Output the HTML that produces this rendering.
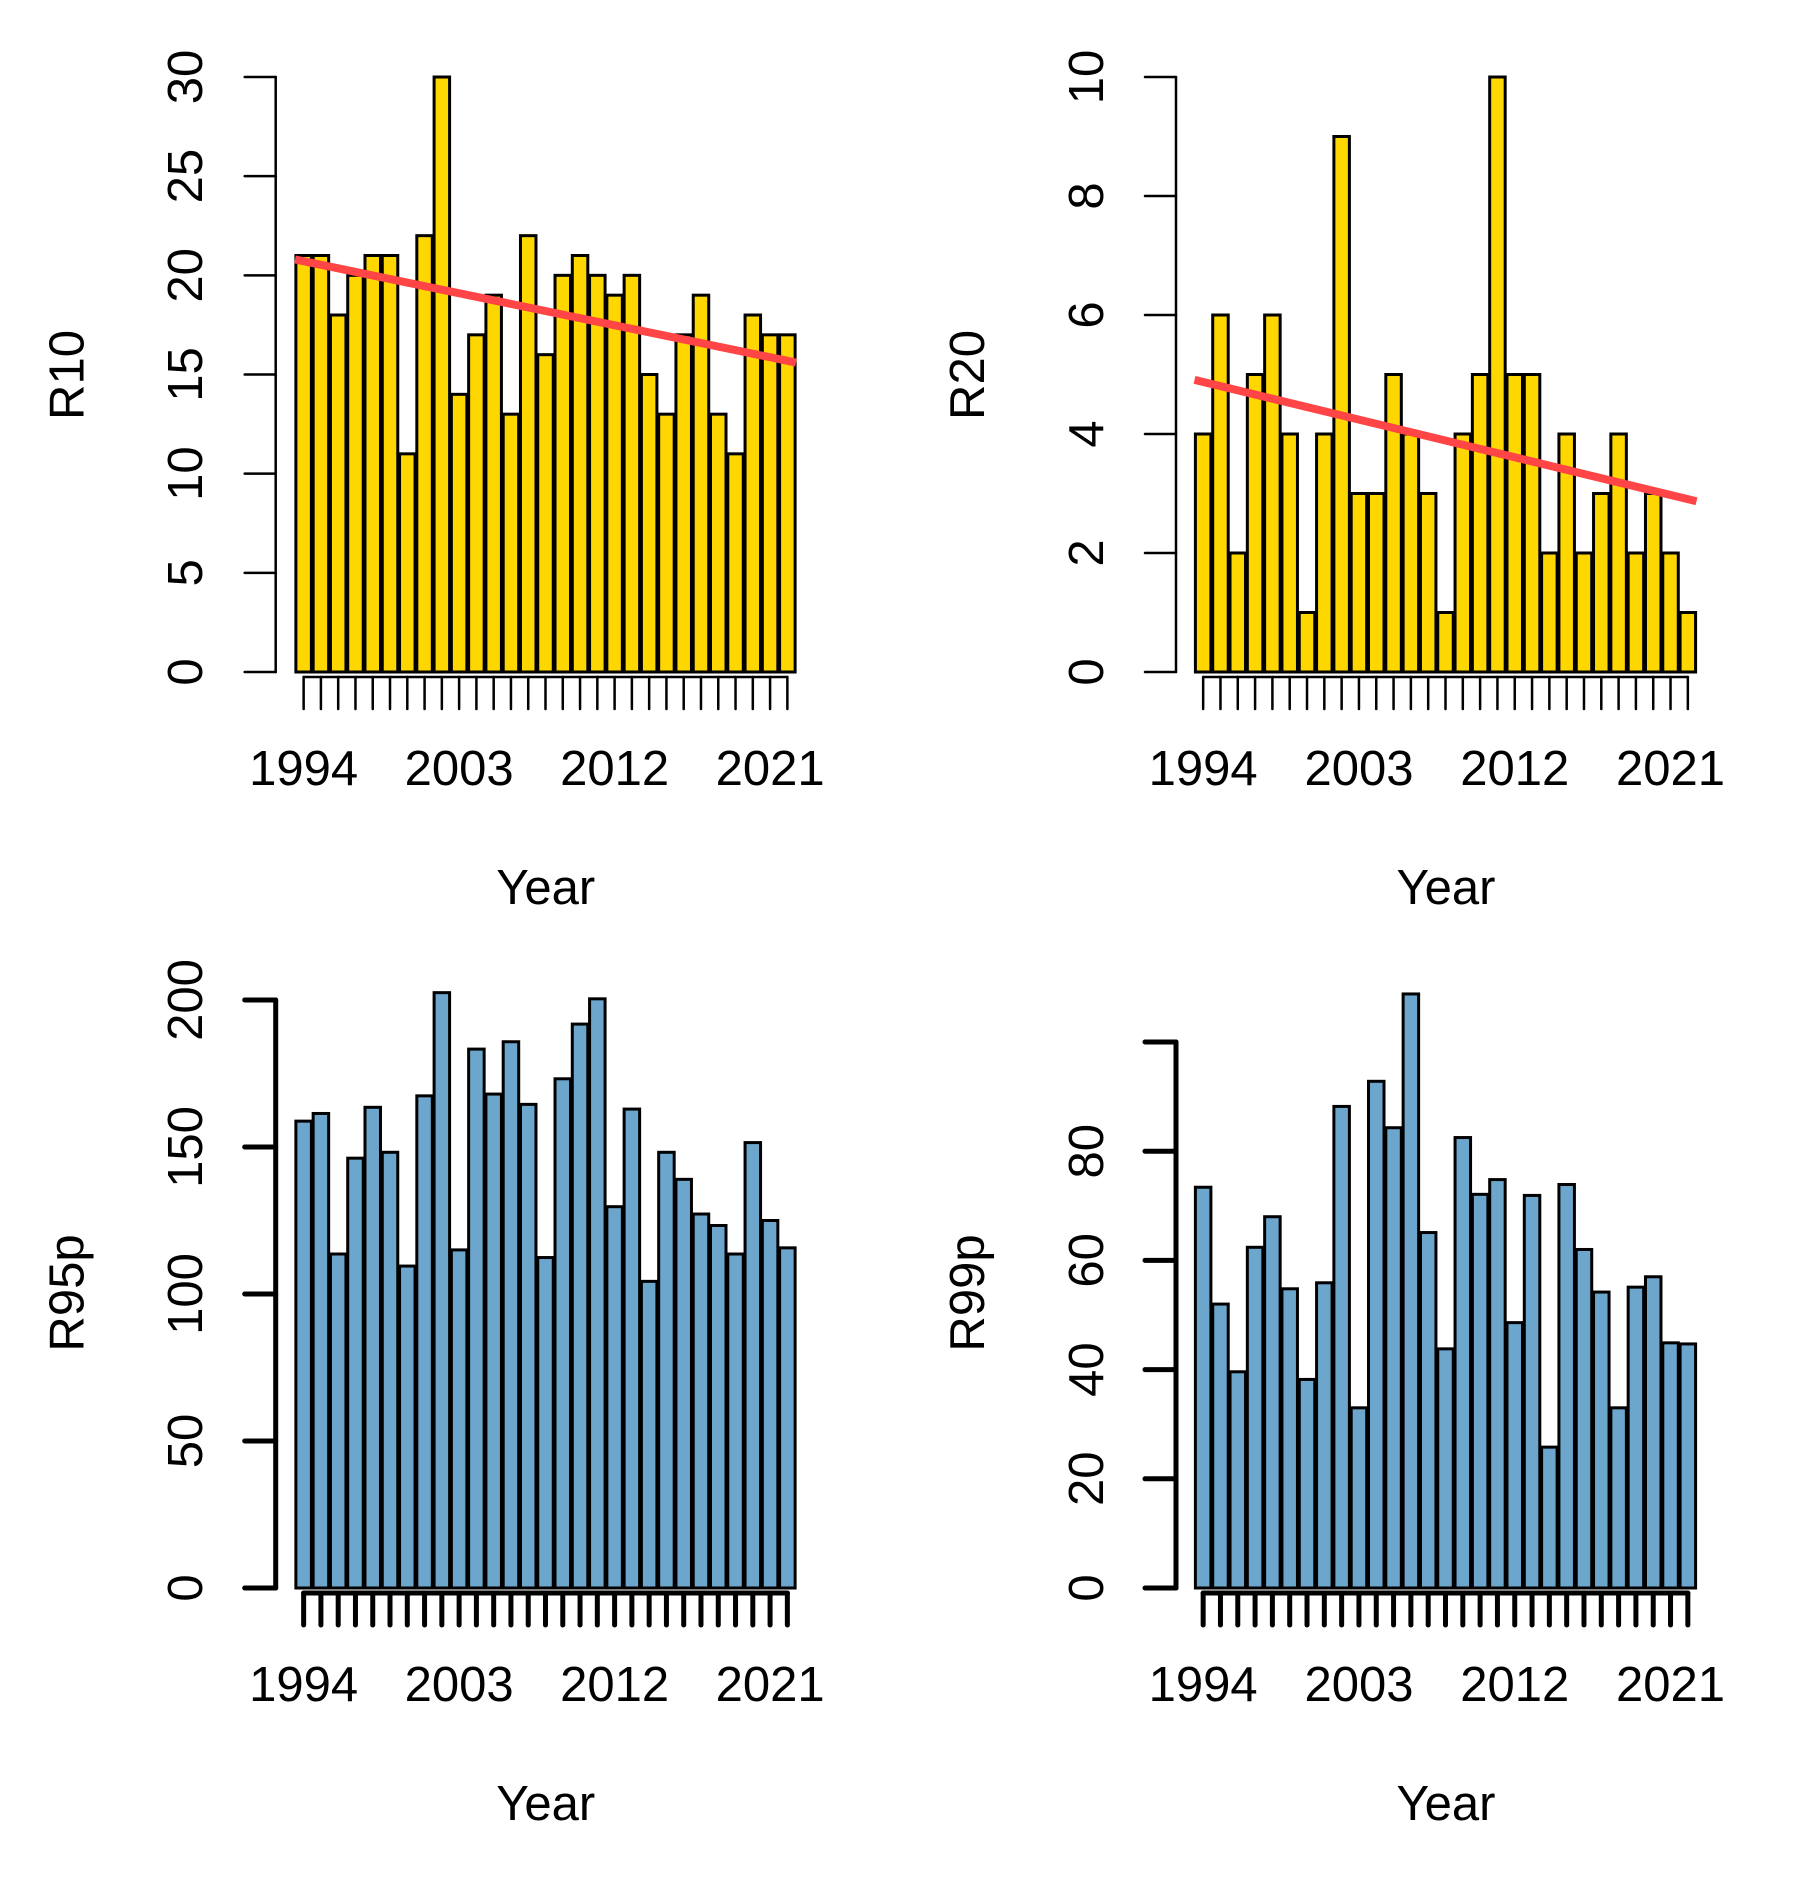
<!DOCTYPE html>
<html><head><meta charset="utf-8"><style>
html,body{margin:0;padding:0;background:#fff;}
svg{display:block;}
text{font-family:"Liberation Sans",Arial,sans-serif;fill:#000;}
</style></head><body>
<svg id="chart" xmlns="http://www.w3.org/2000/svg" width="1793" height="1897" viewBox="0 0 1793 1897"></svg>
<script>
const years = [1994,1995,1996,1997,1998,1999,2000,2001,2002,2003,2004,2005,2006,2007,2008,2009,2010,2011,2012,2013,2014,2015,2016,2017,2018,2019,2020,2021,2022];
const yearLabels = ["1994","2003","2012","2021"];
const r10 = [21,21,18,20,21,21,11,22,30,14,17,19,13,22,16,20,21,20,19,20,15,13,17,19,13,11,18,17,17];
const r20 = [4,6,2,5,6,4,1,4,9,3,3,5,4,3,1,4,5,10,5,5,2,4,2,3,4,2,3,2,1];
const r95p = [158.8,161.4,113.6,146.2,163.5,148.2,109.5,167.4,202.5,115,183.3,168,185.8,164.5,112.4,173.2,191.8,200.4,129.7,162.9,104.3,148.2,139,127.2,123.3,113.6,151.5,125,115.7];
const r99p = [73.4,52,39.6,62.4,68,54.8,38.2,55.9,88.2,33,92.8,84.3,108.8,65.1,43.8,82.5,72.1,74.8,48.6,71.9,25.8,73.9,62,54.2,33,55.1,57,44.9,44.7];
const r10Ticks = [0,5,10,15,20,25,30];
const r20Ticks = [0,2,4,6,8,10];
const r95Ticks = [0,50,100,150,200];
const r99Ticks = [0,20,40,60,80,100];
const r99TickLabels = ["0","20","40","60","80",""];
const r10Trend = [20.8,15.6];
const r20Trend = [4.91,2.87];

const NS = "http://www.w3.org/2000/svg";
const svg = document.getElementById("chart");
function mk(tag, attrs, parent){
  const e = document.createElementNS(NS, tag);
  for (const k in attrs) e.setAttribute(k, attrs[k]);
  (parent||svg).appendChild(e);
  return e;
}

function panel(o){
  const g = mk("g", {});
  
  
  const n = o.values.length;
  const slot = (o.barR - o.barL) / n;
  const xc = i => o.barL + slot * (i + 0.5);
  const ys = v => o.y0 - (v - o.ticks[0]) * o.pxPerUnit;
  o.values.forEach((v, i) => {
    const r = mk("rect", {x: xc(i) - o.bw/2, y: ys(v), width: o.bw, height: ys(0) - ys(v), fill: o.fill, stroke: "#000", "stroke-width": o.bs}, g);
    
    
  });
  if (o.trend){
    const l = mk("line", {x1: o.barL, y1: ys(o.trend[0]), x2: o.barR, y2: ys(o.trend[1]), stroke: "#FF4545", "stroke-width": 8}, g);
    
    
  }
  const ya = mk("g", {}, g);
  
  
  const tF = o.ticks[0], tL = o.ticks[o.ticks.length-1];
  mk("line", {x1: o.ax, y1: ys(tF), x2: o.ax, y2: ys(tL), stroke: "#000", "stroke-width": o.aw, "stroke-linecap": "round"}, ya);
  o.ticks.forEach((t, i) => {
    mk("line", {x1: o.ax - 31, y1: ys(t), x2: o.ax, y2: ys(t), stroke: "#000", "stroke-width": o.aw, "stroke-linecap": "round"}, ya);
    const lab = o.tickLabels ? o.tickLabels[i] : String(t);
    if (lab){
      const tx = mk("text", {x: 0, y: 0, "font-size": 49, "text-anchor": "middle", transform: `translate(${o.ylx + 17},${ys(t)}) rotate(-90)`}, ya);
      tx.textContent = lab;
      
      
    }
  });
  const xa = mk("g", {}, g);
  
  
  const xt0 = o.y0 + 5, xt1 = o.y0 + 37;
  mk("line", {x1: xc(0), y1: xt0, x2: xc(n-1), y2: xt0, stroke: "#000", "stroke-width": o.aw, "stroke-linecap": "round"}, xa);
  for (let i = 0; i < n; i++){
    mk("line", {x1: xc(i), y1: xt0, x2: xc(i), y2: xt1, stroke: "#000", "stroke-width": o.aw, "stroke-linecap": "round"}, xa);
  }
  yearLabels.forEach(lab => {
    const i = years.indexOf(Number(lab));
    const tx = mk("text", {x: xc(i), y: o.y0 + 113, "font-size": 49, "text-anchor": "middle"}, xa);
    tx.textContent = lab;
    
    
  });
  const xt = mk("text", {x: o.ax + 270, y: o.y0 + 232, "font-size": 49, "text-anchor": "middle"}, g);
  xt.textContent = "Year";
  
  
  const yt = mk("text", {x: 0, y: 0, "font-size": 49, "text-anchor": "middle", transform: `translate(${o.ax - 192},${o.titleY}) rotate(-90)`}, g);
  yt.textContent = o.title;
  
  
}

panel({name:"r10", title:"R10", values:r10, ticks:r10Ticks, trend:r10Trend, ax:275.7, ylx:185, barL:295, barR:796, y0:672, pxPerUnit:(672-77)/30, bw:15.5, bs:3, aw:2.5, fill:"#FFD700", titleY:375});
panel({name:"r20", title:"R20", values:r20, ticks:r20Ticks, trend:r20Trend, ax:1176, ylx:1086, barL:1194.5, barR:1696.5, y0:672, pxPerUnit:(672-77)/10, bw:15.5, bs:3, aw:2.5, fill:"#FFD700", titleY:375});
panel({name:"r95p", title:"R95p", values:r95p, ticks:r95Ticks, ax:275.7, ylx:185, barL:295, barR:796, y0:1588, pxPerUnit:588/200, bw:15.5, bs:3, aw:5, fill:"#6CA6CD", titleY:1293});
panel({name:"r99p", title:"R99p", values:r99p, ticks:r99Ticks, tickLabels:r99TickLabels, ax:1176, ylx:1086, barL:1194.5, barR:1696.5, y0:1588, pxPerUnit:109.2/20, bw:15.5, bs:3, aw:5, fill:"#6CA6CD", titleY:1293});
</script>
</body></html>
